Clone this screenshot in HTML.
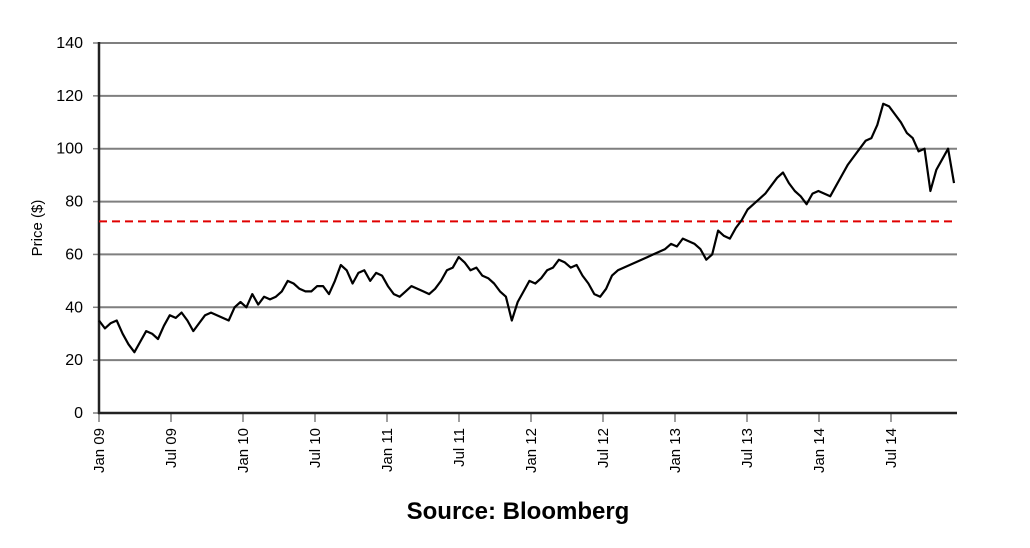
<!DOCTYPE html>
<html><head><meta charset="utf-8"><style>
body{margin:0;background:#fff;}
svg{display:block;font-family:"Liberation Sans",Arial,sans-serif;}
</style></head><body>
<svg id="chart" width="1030" height="548" viewBox="0 0 1030 548">
<g id="grid"></g><g id="axes"></g><g id="series"></g>
<text x="42" y="228" transform="rotate(-90 42 228)" text-anchor="middle" font-size="15" fill="#000">Price ($)</text>
<text x="518" y="519" text-anchor="middle" font-size="24" font-weight="bold" fill="#000">Source: Bloomberg</text>
</svg>
<script>
const yTicks=[0,20,40,60,80,100,120,140];
const xTickLabels=["Jan 09","Jul 09","Jan 10","Jul 10","Jan 11","Jul 11","Jan 12","Jul 12","Jan 13","Jul 13","Jan 14","Jul 14"];
const xTickMonths=[0,6,12,18,24,30,36,42,48,54,60,66];
const refLevel=72.5;
const prices=[35,32,34,35,30,26,23,27,31,30,28,33,37,36,38,35,31,34,37,38,37,36,35,40,
42,40,45,41,44,43,44,46,50,49,47,46,46,48,48,45,50,56,54,49,53,54,50,53,
52,48,45,44,46,48,47,46,45,47,50,54,55,59,57,54,55,52,51,49,46,44,35,42,
46,50,49,51,54,55,58,57,55,56,52,49,45,44,47,52,54,55,56,57,58,59,60,61,
62,64,63,66,65,64,62,58,60,69,67,66,70,73,77,79,81,83,86,89,91,87,84,82,
79,83,84,83,82,86,90,94,97,100,103,104,109,117,116,113,110,106,104,99,100,84,92,96,100,87];
const lastMonth=71.25;
const X0=99,PXM=12.0,Y0=413,PXU=370/140,XR=957;
const monthStep=lastMonth/(prices.length-1);
const xs=m=>X0+m*PXM, ys=v=>Y0-v*PXU;
const NS="http://www.w3.org/2000/svg";
function mk(t,a,p){const e=document.createElementNS(NS,t);for(const k in a)e.setAttribute(k,a[k]);p.appendChild(e);return e;}
const grid=document.getElementById('grid'),axes=document.getElementById('axes'),ser=document.getElementById('series');
yTicks.forEach(v=>{
 if(v>0){const g=mk('line',{x1:X0,x2:XR,y1:ys(v),y2:ys(v),stroke:'#7f7f7f','stroke-width':2},grid);
 
 }
 const tk=mk('line',{x1:X0-6,x2:X0,y1:ys(v),y2:ys(v),stroke:'#7f7f7f','stroke-width':1.5},axes);
 
 
 const t=mk('text',{x:X0-16,y:ys(v)+5,'text-anchor':'end','font-size':16,fill:'#000'},axes);t.textContent=v;
 
 
});
xTickMonths.forEach((m,i)=>{
 const x=xs(m);
 const tk=mk('line',{x1:x,x2:x,y1:Y0,y2:Y0+9,stroke:'#7f7f7f','stroke-width':1.5},axes);
 
 
 const t=mk('text',{x:0,y:0,'text-anchor':'end','font-size':15,fill:'#000',transform:`translate(${x+5},428) rotate(-90)`},axes);t.textContent=xTickLabels[i];
 
 
});
const ya=mk('line',{x1:X0,x2:X0,y1:42,y2:Y0+1,stroke:'#222','stroke-width':2.5},axes);


const xa=mk('line',{x1:X0-1,x2:XR,y1:Y0,y2:Y0,stroke:'#222','stroke-width':2.5},axes);


const rl=mk('line',{x1:X0,x2:XR,y1:ys(refLevel),y2:ys(refLevel),stroke:'#e00000','stroke-width':2,'stroke-dasharray':'8 5'},ser);


const d=prices.map((v,i)=>(i?'L':'M')+xs(i*monthStep).toFixed(1)+' '+ys(v).toFixed(1)).join(' ');
const p=mk('path',{d:d,fill:'none',stroke:'#000','stroke-width':2.2,'stroke-linejoin':'round'},ser);


</script>
</body></html>
